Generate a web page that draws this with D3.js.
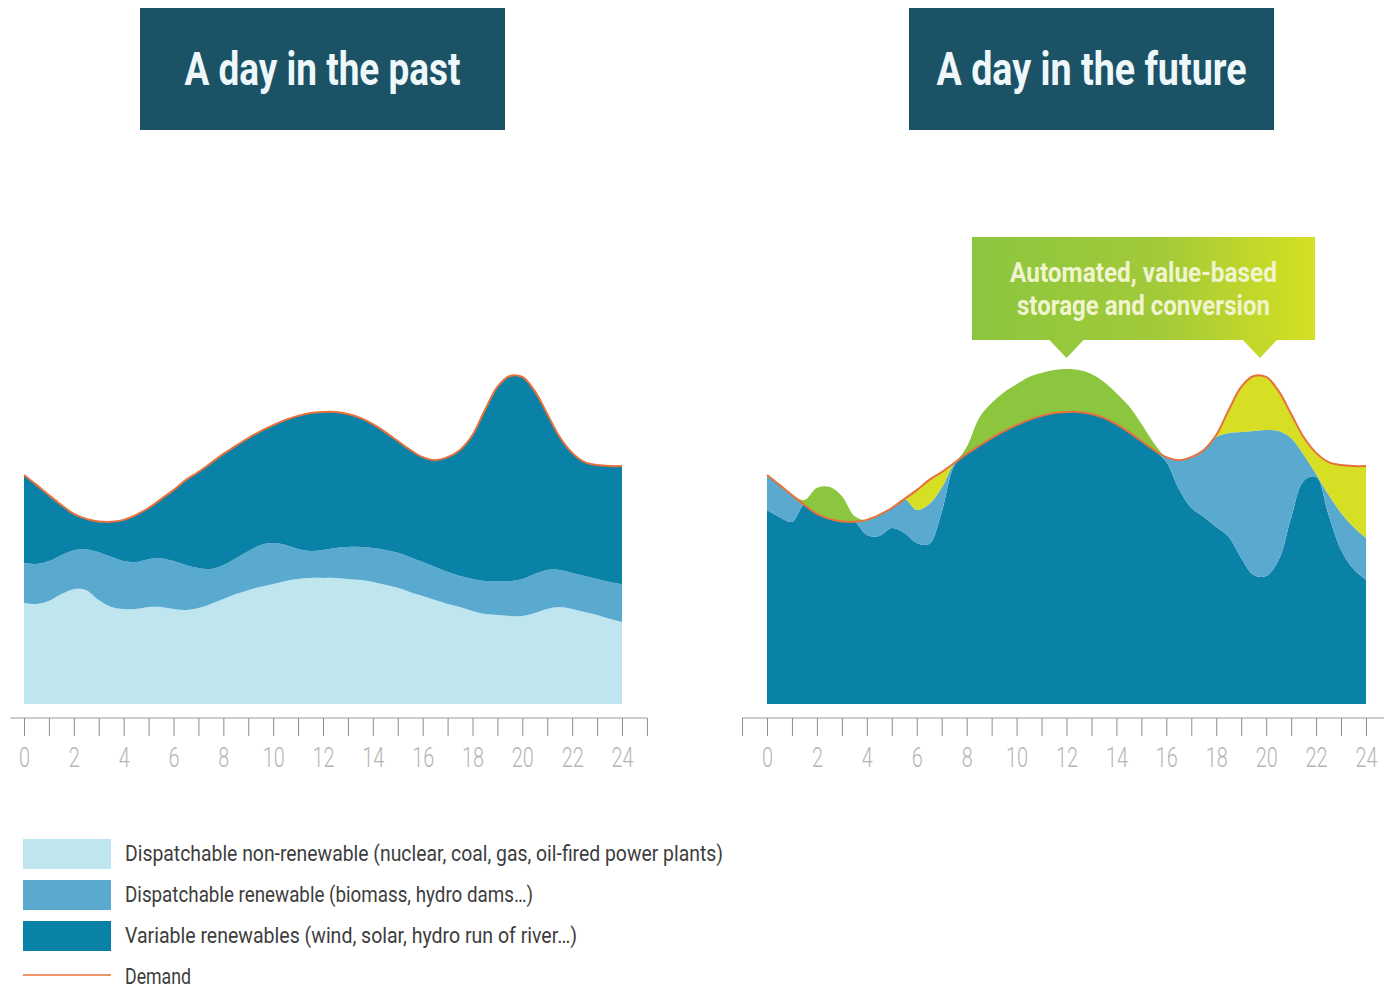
<!DOCTYPE html>
<html>
<head>
<meta charset="utf-8">
<script src="https://cdn.jsdelivr.net/npm/d3@7"></script>
<style>
  html, body { margin: 0; padding: 0; background: #ffffff; }
  svg { display: block; }
</style>
</head>
<body>
<svg id="chart" width="1384" height="989"></svg>
<script>
// Half-hourly time grid (hours of the day)
const hours = [0,0.5,1,1.5,2,2.5,3,3.5,4,4.5,5,5.5,6,6.5,7,7.5,8,8.5,9,9.5,10,10.5,11,11.5,
  12,12.5,13,13.5,14,14.5,15,15.5,16,16.5,17,17.5,18,18.5,19,19.5,20,20.5,21,21.5,22,22.5,23,23.5,24];

// Axis ticks (hourly) and their labels (every two hours)
const tickHours = [-1,0,1,2,3,4,5,6,7,8,9,10,11,12,13,14,15,16,17,18,19,20,21,22,23,24,25];
const tickLabels = ["0","2","4","6","8","10","12","14","16","18","20","22","24"];

// Electricity demand over the day (same for both days)
const demand = [69.4,66.4,63.3,60.3,57.6,56.1,55.3,55.2,55.8,57.3,59.4,62.1,64.8,67.9,70.3,73.0,
  75.8,78.2,80.6,82.7,84.5,86.1,87.3,88.2,88.5,88.5,87.9,86.7,84.8,82.4,79.7,77.0,74.8,73.9,74.8,
  77.0,81.5,89.1,96.1,99.4,99.1,94.8,87.9,80.9,76.1,73.3,72.4,72.1,72.1];

// A day in the past: generation by source
const pastNonRenewable = [30.6,30.3,31.2,33.3,34.8,34.5,31.5,29.4,28.8,28.8,29.4,29.4,28.8,28.5,
  29.1,30.3,31.8,33.3,34.5,35.5,36.4,37.3,37.9,38.2,38.2,38.2,37.9,37.6,37.0,36.1,35.2,33.9,32.7,
  31.5,30.3,29.4,28.2,27.3,27.0,26.7,26.7,27.6,28.8,29.4,28.8,27.9,27.0,25.8,24.8];
const pastDispatchable = [12.1,12.1,12.1,11.8,11.8,12.4,14.5,15.2,14.5,14.2,14.5,14.8,14.5,13.6,
  12.1,10.6,10.3,10.9,11.8,12.7,12.4,10.9,9.1,8.2,8.5,9.1,9.7,10.0,10.3,10.6,10.6,10.6,10.3,10.0,
  9.7,9.4,9.7,10.0,10.3,10.6,11.2,11.8,11.8,11.2,10.9,10.9,10.9,11.2,11.5];
const pastVariable = [26.7,23.9,20.0,15.2,10.9,9.1,9.2,10.6,12.4,14.2,15.5,17.9,21.5,25.8,29.1,
  32.1,33.6,33.9,34.2,34.5,35.8,37.9,40.3,41.8,41.8,41.2,40.3,39.1,37.6,35.8,33.9,32.4,31.8,32.4,
  34.8,38.2,43.6,51.8,58.8,62.1,61.2,55.5,47.3,40.3,36.4,34.5,34.5,35.2,35.8];

// A day in the future: generation by source, storage output and storage input
const futureVariable = [58.8,56.7,55.2,60.3,57.6,56.1,55.3,55.2,51.2,50.9,53.3,51.8,48.8,48.5,
  58.2,72.1,75.8,78.2,80.6,82.7,84.5,86.1,87.3,88.2,88.5,88.5,87.9,86.7,84.8,82.4,79.7,77.0,73.3,
  65.2,59.4,56.7,53.6,50.6,44.2,39.1,38.8,43.6,56.4,67.6,68.8,57.3,46.7,40.9,37.6];
const futureDispatchable = [10.6,9.7,8.2,0,0,0,0,0,4.5,6.4,6.1,10.3,10.0,12.1,7.3,0.6,
  0,0,0,0,0,0,0,0,0,0,0,0,0,0,0,0,1.5,8.8,15.5,20.3,27.3,31.5,38.2,43.6,44.2,39.1,24.2,7.9,0.9,
  6.1,11.2,12.7,12.7];
const futureStorageOut = [0,0,0,0,0,0,0,0,0,0,0,0,6.1,7.3,4.8,0.3,
  0,0,0,0,0,0,0,0,0,0,0,0,0,0,0,0,0,0,0,0,0.6,7.0,13.6,16.7,16.1,12.1,7.3,5.5,6.4,10.0,14.5,18.5,21.8];
const futureStorageIn = [0,0,0,1.5,7.9,9.7,7.7,1.8,0,0,0,0,0,0,0,0,2.1,8.5,10.6,11.8,12.4,13.0,
  13.0,13.0,13.0,12.7,12.1,10.9,9.4,7.9,5.2,2.1,0,0,0,0,0,0,0,0,0,0,0,0,0,0,0,0,0];

const titles = ["A day in the past", "A day in the future"];
const calloutLines = ["Automated, value-based", "storage and conversion"];
const calloutHours = [12, 19.75];
const legendLabels = [
  "Dispatchable non-renewable (nuclear, coal, gas, oil-fired power plants)",
  "Dispatchable renewable (biomass, hydro dams\u2026)",
  "Variable renewables (wind, solar, hydro run of river\u2026)",
  "Demand"
];

const colors = {
  nonRenewable: "#bfe5ee",
  dispatchable: "#5aaad0",
  variable: "#0a82a8",
  storageOut: "#d6df24",
  storageIn: "#8cc63f",
  demand: "#e8703a",
  titleBox: "#1b5265"
};

const svg = d3.select("#chart");
const condensed = "'Roboto', 'DejaVu Sans', sans-serif";
const curve = d3.curveCatmullRom.alpha(0.5);

// gradient for the storage callout
const defs = svg.append("defs");
const grad = defs.append("linearGradient").attr("id", "calloutGrad")
  .attr("x1", "0%").attr("x2", "100%").attr("y1", "0%").attr("y2", "0%");
grad.append("stop").attr("offset", "0%").attr("stop-color", "#8cc63f");
grad.append("stop").attr("offset", "55%").attr("stop-color", "#a2ca39");
grad.append("stop").attr("offset", "100%").attr("stop-color", "#d6e022");

const y = d3.scaleLinear().domain([0, 100]).range([704, 374]);

const panels = [
  {
    x: d3.scaleLinear().domain([0, 24]).range([24, 622]),
    keys: ["nonRenewable", "dispatchable", "variable"],
    series: { nonRenewable: pastNonRenewable, dispatchable: pastDispatchable, variable: pastVariable },
    title: titles[0], titleBox: [140, 8, 365, 122], titleWidth: 276,
    axisFrom: -0.55, axisTo: 25, tickMin: 0
  },
  {
    x: d3.scaleLinear().domain([0, 24]).range([767, 1366]),
    keys: ["variable", "dispatchable", "storageOut", "storageIn"],
    series: { variable: futureVariable, dispatchable: futureDispatchable,
              storageOut: futureStorageOut, storageIn: futureStorageIn },
    title: titles[1], titleBox: [909, 8, 365, 122], titleWidth: 310,
    axisFrom: -1, axisTo: 25, tickMin: -1
  }
];

panels.forEach(p => {
  const g = svg.append("g");
  const rows = hours.map((h, i) => {
    const r = { hour: h };
    p.keys.forEach(k => { r[k] = p.series[k][i]; });
    return r;
  });
  const stacked = d3.stack().keys(p.keys)(rows);
  const area = d3.area()
    .x(d => p.x(d.data.hour))
    .y0(d => y(d[0]))
    .y1(d => y(d[1]))
    .curve(curve);

  g.selectAll("path.layer").data(stacked).join("path")
    .attr("class", "layer")
    .attr("fill", s => colors[s.key])
    .attr("d", area);

  const line = d3.line()
    .x((d, i) => p.x(hours[i]))
    .y(d => y(d))
    .curve(curve);
  g.append("path").datum(demand)
    .attr("fill", "none")
    .attr("stroke", colors.demand)
    .attr("stroke-width", 2)
    .attr("d", line);

  // hour axis
  const axisY = 718;
  const ax = svg.append("g").attr("transform", `translate(0,${axisY})`);
  ax.append("line")
    .attr("x1", p.x(p.axisFrom)).attr("x2", p.x(p.axisTo))
    .attr("stroke", "#9a9a9a").attr("stroke-width", 1.2);
  const axis = d3.axisBottom(p.x)
    .tickValues(tickHours.filter(h => h >= p.tickMin))
    .tickSize(18).tickSizeOuter(0).tickPadding(10)
    .tickFormat(h => (h >= 0 && h <= 24 && h % 2 === 0) ? tickLabels[h / 2] : "");
  const axG = ax.append("g").call(axis);
  axG.select(".domain").remove();
  axG.selectAll(".tick line").attr("stroke", "#8e8e8e").attr("stroke-width", 1);
  axG.selectAll(".tick text")
    .attr("y", 49)
    .attr("dy", 0)
    .attr("fill", "#b5b5b5")
    .style("font-family", condensed)
    .style("font-size", "27px")
    .style("font-weight", 300)
    .each(function() {
      const t = d3.select(this).text();
      if (t) d3.select(this).attr("textLength", t.length * 11).attr("lengthAdjust", "spacingAndGlyphs");
    });

  // title box
  const [bx, by, bw, bh] = p.titleBox;
  svg.append("rect").attr("x", bx).attr("y", by).attr("width", bw).attr("height", bh)
    .attr("fill", colors.titleBox);
  svg.append("text")
    .attr("x", bx + bw / 2).attr("y", by + 77)
    .attr("text-anchor", "middle")
    .attr("fill", "#eef8fa")
    .attr("textLength", p.titleWidth).attr("lengthAdjust", "spacingAndGlyphs")
    .style("font-family", condensed).style("font-size", "47px").style("font-weight", 700)
    .text(p.title);
});

// storage callout on the future day
const xf = panels[1].x;
const callout = svg.append("g");
const cx0 = 972, cy0 = 237, cw = 343, ch = 103;
callout.append("rect").attr("x", cx0).attr("y", cy0).attr("width", cw).attr("height", ch)
  .attr("fill", "url(#calloutGrad)");
// pointer fills sampled from the same gradient along the box
const gradScale = d3.scaleLinear().domain([cx0, cx0 + cw * 0.55, cx0 + cw])
  .range(["#8cc63f", "#a2ca39", "#d6e022"]);
calloutHours.forEach(h => {
  const px = xf(h);
  callout.append("path")
    .attr("d", `M${px - 18},${cy0 + ch - 1} L${px + 18},${cy0 + ch - 1} L${px},${cy0 + ch + 18} Z`)
    .attr("fill", gradScale(px));
});
const calloutWidths = [267, 253];
calloutLines.forEach((t, i) => {
  callout.append("text")
    .attr("x", cx0 + cw / 2).attr("y", 282 + i * 33)
    .attr("text-anchor", "middle")
    .attr("fill", "#f0f5cf")
    .attr("textLength", calloutWidths[i]).attr("lengthAdjust", "spacingAndGlyphs")
    .style("font-family", condensed).style("font-size", "28px").style("font-weight", 700)
    .text(t);
});

// legend
const legend = svg.append("g");
const legendColors = [colors.nonRenewable, colors.dispatchable, colors.variable];
const legendWidths = [598, 408, 452, 66];
legendLabels.forEach((label, i) => {
  const cy = 854 + i * 41;
  if (i < 3) {
    legend.append("rect").attr("x", 23).attr("y", cy - 15).attr("width", 88).attr("height", 30)
      .attr("fill", legendColors[i]);
  } else {
    legend.append("line").attr("x1", 23).attr("x2", 111).attr("y1", cy - 2).attr("y2", cy - 2)
      .attr("stroke", colors.demand).attr("stroke-width", 1.6);
  }
  legend.append("text")
    .attr("x", 125).attr("y", cy + 7)
    .attr("fill", "#3d3d3d")
    .attr("textLength", legendWidths[i]).attr("lengthAdjust", "spacingAndGlyphs")
    .style("font-family", condensed).style("font-size", "22px").style("font-weight", 400)
    .text(label);
});
</script>
</body>
</html>
